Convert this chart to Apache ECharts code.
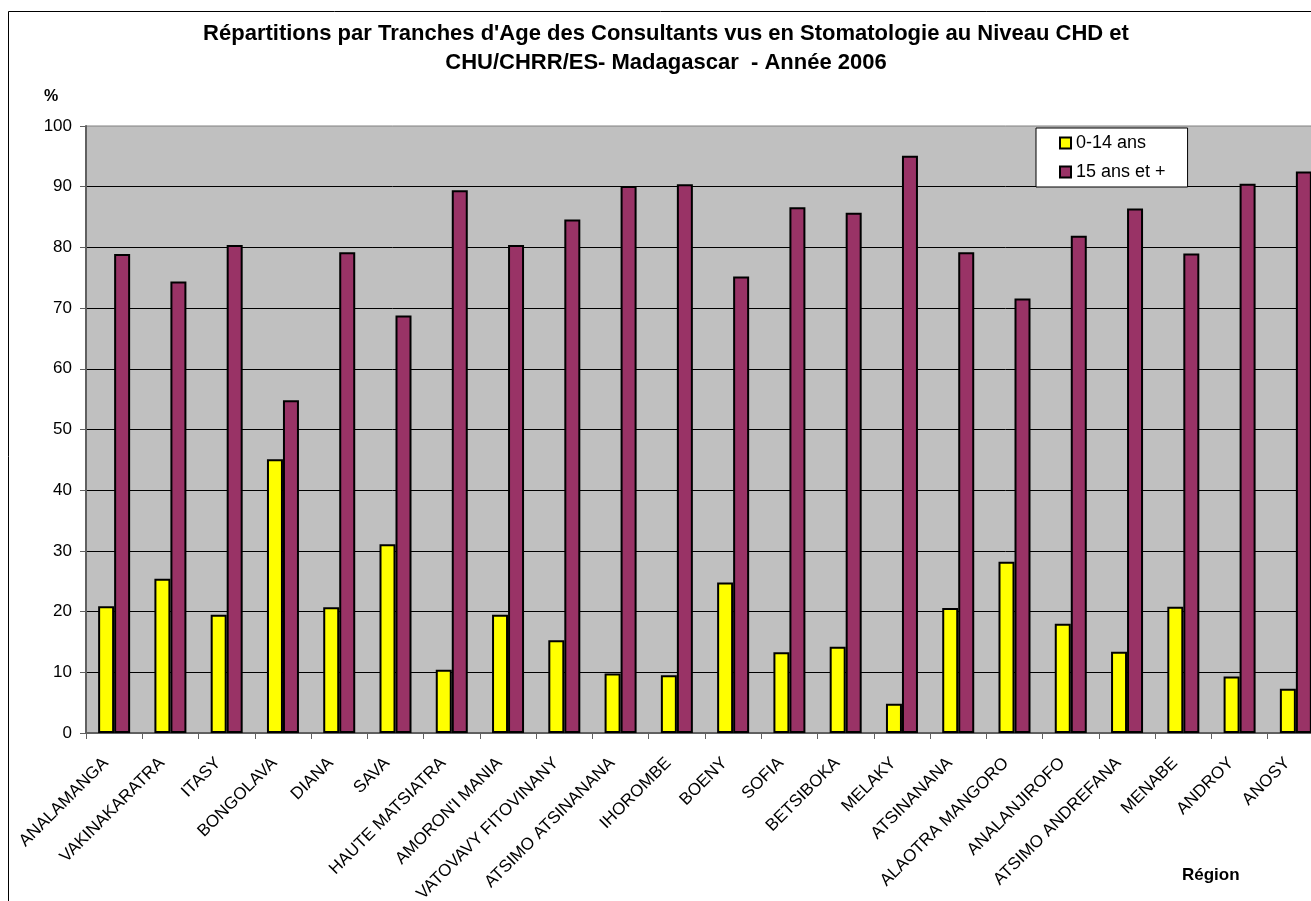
<!DOCTYPE html>
<html>
<head>
<meta charset="utf-8">
<title>Répartitions par Tranches d'Age - Stomatologie 2006</title>
<script src="https://cdn.jsdelivr.net/npm/echarts@6/dist/echarts.min.js"></script>
<style>
  html, body { margin: 0; padding: 0; background: #fff; }
  #chart { width: 1311px; height: 901px; }
</style>
</head>
<body>
<div id="chart"></div>
<script>
// Regions (x axis)
const regions = [
  'ANALAMANGA', 'VAKINAKARATRA', 'ITASY', 'BONGOLAVA', 'DIANA', 'SAVA',
  'HAUTE MATSIATRA', "AMORON'I MANIA", 'VATOVAVY FITOVINANY', 'ATSIMO ATSINANANA',
  'IHOROMBE', 'BOENY', 'SOFIA', 'BETSIBOKA', 'MELAKY', 'ATSINANANA',
  'ALAOTRA MANGORO', 'ANALANJIROFO', 'ATSIMO ANDREFANA', 'MENABE', 'ANDROY', 'ANOSY'
];

// Share of consultants aged 0-14 (%)
const age0to14 = [
  20.9, 25.4, 19.5, 45.1, 20.7, 31.1, 10.4, 19.5, 15.3, 9.8, 9.5,
  24.8, 13.3, 14.2, 4.8, 20.6, 28.2, 18.0, 13.4, 20.8, 9.3, 7.3
];

// Share of consultants aged 15 and over (%)
const age15plus = [
  78.9, 74.4, 80.4, 54.8, 79.2, 68.8, 89.4, 80.4, 84.6, 90.1, 90.4,
  75.2, 86.6, 85.7, 95.1, 79.2, 71.6, 81.9, 86.4, 79.0, 90.5, 92.5
];

const seriesNames = ['0-14 ans', '15 ans et +'];
const yTicks = { min: 0, max: 100, interval: 10 };

const FONT = "'Liberation Sans', Arial, sans-serif";

const chart = echarts.init(document.getElementById('chart'), null, { renderer: 'canvas' });

chart.setOption({
  backgroundColor: '#ffffff',
  animation: false,
  title: [
    {
      text: "Répartitions par Tranches d'Age des Consultants vus en Stomatologie au Niveau CHD et\nCHU/CHRR/ES- Madagascar  - Année 2006",
      left: 666,
      top: 19,
      textAlign: 'center',
      padding: 0,
      textStyle: { fontFamily: FONT, fontSize: 22, fontWeight: 'bold', color: '#000', lineHeight: 29 }
    },
    {
      text: '%',
      left: 44,
      top: 89,
      padding: 0,
      textStyle: { fontFamily: FONT, fontSize: 16, fontWeight: 'bold', color: '#000' }
    },
    {
      text: 'Région',
      left: 1182,
      top: 867,
      padding: 0,
      textStyle: { fontFamily: FONT, fontSize: 17, fontWeight: 'bold', color: '#000' }
    }
  ],
  graphic: [
    {
      type: 'rect',
      silent: true,
      z: -10,
      shape: { x: 8.5, y: 11.5, width: 1400, height: 1000 },
      style: { fill: 'none', stroke: '#000', lineWidth: 1 }
    }
  ],
  legend: {
    orient: 'vertical',
    left: 1036,
    top: 128,
    padding: [5, 22, 5, 23],
    itemGap: 9,
    itemWidth: 11,
    itemHeight: 11,
    icon: 'rect',
    backgroundColor: '#ffffff',
    borderColor: '#000',
    borderWidth: 1,
    borderRadius: 0,
    itemStyle: { borderColor: '#000', borderWidth: 2 },
    textStyle: { fontFamily: FONT, fontSize: 18, color: '#000', lineHeight: 20 },
    data: seriesNames
  },
  grid: {
    left: 86,
    top: 126,
    width: 1238,
    height: 607,
    containLabel: false,
    outerBoundsMode: 'none',
    show: true,
    backgroundColor: '#c0c0c0',
    borderColor: '#808080',
    borderWidth: 1
  },
  xAxis: {
    type: 'category',
    data: regions,
    axisLine: { show: true, lineStyle: { color: '#606060', width: 2 } },
    axisTick: { show: true, alignWithLabel: false, length: 6, lineStyle: { color: '#606060', width: 1 } },
    axisLabel: {
      interval: 0,
      rotate: 45,
      margin: 19,
      padding: [0, 12, 0, 0],
      fontFamily: FONT,
      fontSize: 17,
      color: '#000'
    },
    splitLine: { show: false }
  },
  yAxis: {
    type: 'value',
    min: yTicks.min,
    max: yTicks.max,
    interval: yTicks.interval,
    axisLine: { show: true, lineStyle: { color: '#606060', width: 2 } },
    axisTick: { show: true, length: 6, lineStyle: { color: '#606060', width: 1 } },
    axisLabel: { fontFamily: FONT, fontSize: 17, color: '#000', margin: 14 },
    splitLine: { show: true, showMinLine: false, showMaxLine: false, lineStyle: { color: '#000', width: 1 } }
  },
  series: [
    {
      name: seriesNames[0],
      type: 'bar',
      data: age0to14,
      barWidth: 16,
      barGap: '0%',
      itemStyle: { color: '#ffff00', borderColor: '#000', borderWidth: 2 }
    },
    {
      name: seriesNames[1],
      type: 'bar',
      data: age15plus,
      barWidth: 16,
      barGap: '0%',
      itemStyle: { color: '#993366', borderColor: '#000', borderWidth: 2 }
    }
  ]
});
</script>
</body>
</html>
